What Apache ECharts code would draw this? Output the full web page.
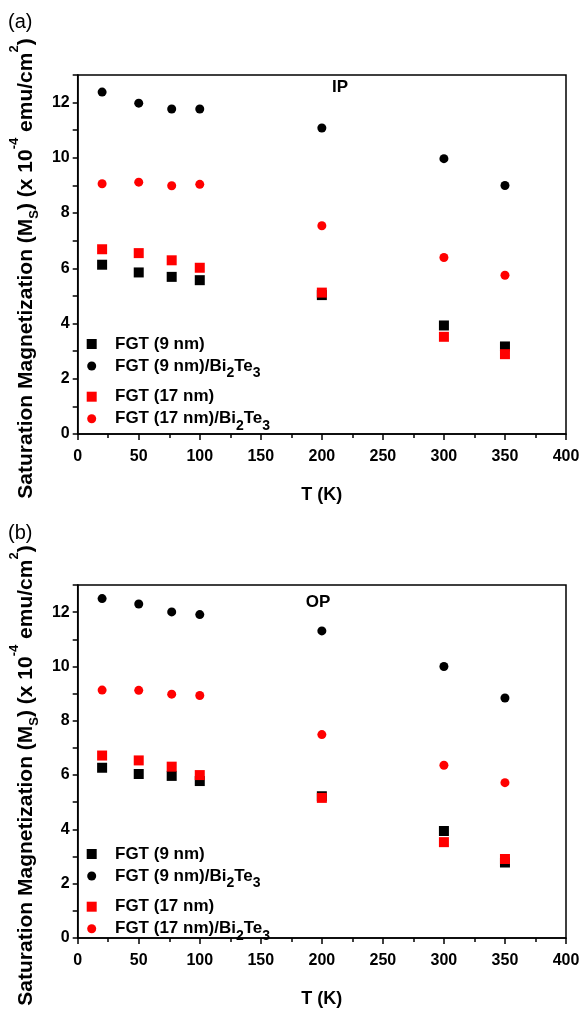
<!DOCTYPE html>
<html>
<head>
<meta charset="utf-8">
<script src="https://cdn.jsdelivr.net/npm/echarts@6/dist/echarts.min.js"></script>
<style>
html,body{margin:0;padding:0;background:#fff;}
#chart{width:584px;height:1009px;}
</style>
</head>
<body>
<div id="chart"></div>
<script>
// ---- data ----
const temperatures = [20, 50, 77, 100, 200, 300, 350];

const seriesNames = ['FGT (9 nm)', 'FGT (9 nm)/Bi2Te3', 'FGT (17 nm)', 'FGT (17 nm)/Bi2Te3'];

// (a) IP
const ipFGT9      = [6.13, 5.85, 5.69, 5.57, 5.03, 3.93, 3.17];
const ipFGT9Bi    = [12.38, 11.98, 11.77, 11.77, 11.08, 9.97, 9.00];
const ipFGT17     = [6.69, 6.55, 6.29, 6.02, 5.12, 3.52, 2.89];
const ipFGT17Bi   = [9.06, 9.12, 8.99, 9.04, 7.54, 6.39, 5.75];

// (b) OP
const opFGT9      = [6.27, 6.04, 5.97, 5.78, 5.22, 3.94, 2.78];
const opFGT9Bi    = [12.50, 12.30, 12.01, 11.91, 11.31, 10.00, 8.84];
const opFGT17     = [6.72, 6.54, 6.31, 6.00, 5.16, 3.53, 2.91];
const opFGT17Bi   = [9.13, 9.12, 8.98, 8.93, 7.49, 6.36, 5.72];

const xTickMin = 0, xTickMax = 400, xTickStep = 50;
const yTickMin = 0, yTickMax = 13, yLabelStep = 2;

const panelLabels = ['(a)', '(b)'];
const panelTags = ['IP', 'OP'];
const xTitle = 'T (K)';
const yTitle = 'Saturation Magnetization (M{sub|S}) (x 10{sup|-4} emu/cm{sup|2})';

// ---- styling ----
const FONT = '"Liberation Sans", Arial, Helvetica, sans-serif';
const BLACK = '#000000';
const RED = '#ff0000';
const seriesColors = [BLACK, BLACK, RED, RED];
const seriesSymbols = ['rect', 'circle', 'rect', 'circle'];
const seriesSizes = [10, 9, 10, 9];

const panels = [
  { top: 75, height: 359, data: [ipFGT9, ipFGT9Bi, ipFGT17, ipFGT17Bi] },
  { top: 585, height: 360, data: [opFGT9, opFGT9Bi, opFGT17, opFGT17Bi] }
];

const chart = echarts.init(document.getElementById('chart'), null, { renderer: 'canvas' });

const grid = [], xAxis = [], yAxis = [], series = [], legend = [], graphic = [];

const axisLineStyle = { color: BLACK, width: 1.5 };

function legendFmt(name) {
  return name.replace('Bi2Te3', 'Bi{sub|2}Te{sub|3}');
}

panels.forEach((p, i) => {
  grid.push({ left: 76, top: p.top, width: 490, height: p.height, show: true,
              borderColor: BLACK, borderWidth: 1.5, backgroundColor: 'transparent' });
  xAxis.push({
    gridIndex: i, type: 'value', min: xTickMin, max: xTickMax, interval: xTickStep,
    axisLine: { show: true, onZero: false, lineStyle: axisLineStyle },
    axisTick: { show: true, inside: false, length: 6, lineStyle: { color: BLACK, width: 1.5 } },
    minorTick: { show: true, splitNumber: 2, length: 4, lineStyle: { color: BLACK, width: 1.5 } },
    splitLine: { show: false }, minorSplitLine: { show: false },
    axisLabel: { fontSize: 16, fontWeight: 'bold', color: BLACK, fontFamily: FONT, margin: 15,
                 showMaxLabel: true, showMinLabel: true },
    name: xTitle, nameLocation: 'middle', nameGap: 52,
    nameTextStyle: { fontSize: 18, fontWeight: 'bold', color: BLACK, fontFamily: FONT }
  });
  yAxis.push({
    gridIndex: i, type: 'value', min: yTickMin, max: yTickMax, interval: 1,
    axisLine: { show: true, onZero: false, lineStyle: axisLineStyle },
    axisTick: { show: true, inside: false, length: 5, lineStyle: { color: BLACK, width: 1.5 } },
    splitLine: { show: false },
    axisLabel: { fontSize: 16, fontWeight: 'bold', color: BLACK, fontFamily: FONT, margin: 8,
                 formatter: v => (v % yLabelStep === 0 ? String(v) : '') },
    name: yTitle, nameLocation: 'middle', nameGap: 26,
    nameTextStyle: {
      fontSize: 21, fontWeight: 'bold', color: BLACK, fontFamily: FONT,
      padding: [0, 28, 0, 0],
      rich: {
        sub: { fontSize: 13, fontWeight: 'bold', color: BLACK, fontFamily: FONT, padding: [16, 0, 0, 0] },
        sup: { fontSize: 13, fontWeight: 'bold', color: BLACK, fontFamily: FONT, padding: [0, 0, 24, 0] }
      }
    }
  });
  p.data.forEach((vals, k) => {
    series.push({
      type: 'scatter', name: seriesNames[k], xAxisIndex: i, yAxisIndex: i,
      symbol: seriesSymbols[k], symbolSize: seriesSizes[k],
      itemStyle: { color: seriesColors[k], opacity: 1 },
      data: temperatures.map((t, j) => [t, vals[j]]),
      silent: true, animation: false
    });
  });

  const off = p.top - 75;
  const legendCenters = [344, 365, 396.7, 417.7];
  seriesNames.forEach((nm, k) => {
    const s = seriesSizes[k];
    const hasSub = nm.indexOf('Bi2Te3') >= 0;
    const topShift = hasSub ? 7.5 : 8.5;
    legend.push({
      show: true, data: [nm], orient: 'vertical', padding: 0, itemGap: 0,
      left: 91.7 - s / 2, top: legendCenters[k] + off - topShift,
      itemWidth: s, itemHeight: s, selectedMode: false,
      formatter: legendFmt,
      textStyle: {
        fontSize: 17, fontWeight: 'bold', color: BLACK, fontFamily: FONT,
        padding: [0, 0, 0, 115 - (91.7 - s / 2) - s - 5],
        rich: { sub: { fontSize: 14, fontWeight: 'bold', color: BLACK, fontFamily: FONT, padding: [14, 0, 0, 0] } }
      }
    });
  });

  graphic.push({
    type: 'text', left: 8, top: (i === 0 ? 12 : 523),
    style: { text: panelLabels[i], fontSize: 20, fontFamily: FONT, fill: BLACK }
  });
  graphic.push({
    type: 'text', x: (i === 0 ? 340 : 318), y: (i === 0 ? 87 : 602),
    style: { text: panelTags[i], fontSize: 17, fontWeight: 'bold', fontFamily: FONT, fill: BLACK,
             align: 'center', verticalAlign: 'middle' }
  });
});

chart.setOption({
  animation: false,
  backgroundColor: '#ffffff',
  grid, xAxis, yAxis, series, legend, graphic
});
</script>
</body>
</html>
